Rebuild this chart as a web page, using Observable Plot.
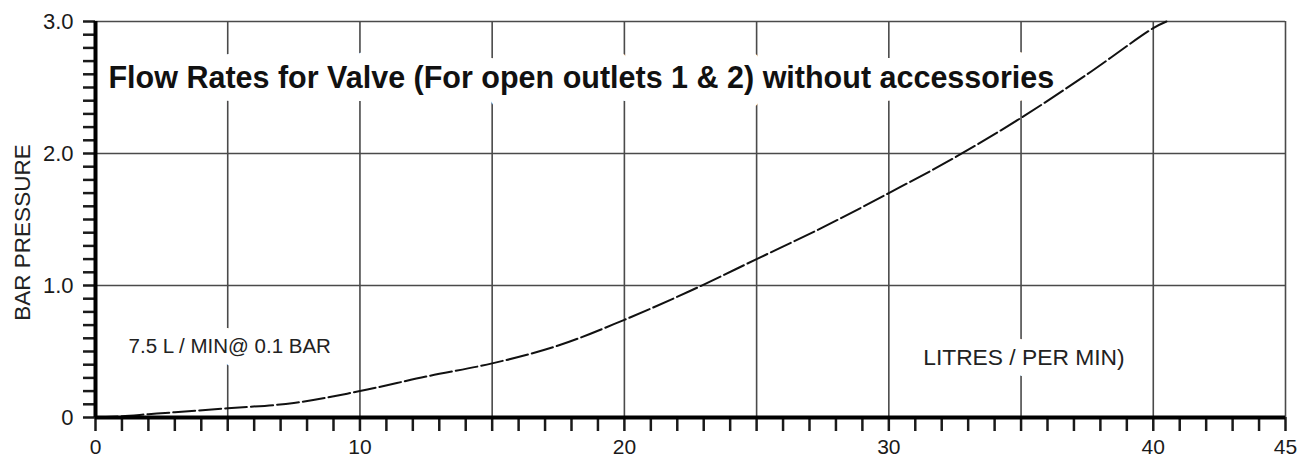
<!DOCTYPE html>
<html>
<head>
<meta charset="utf-8">
<script src="https://cdn.jsdelivr.net/npm/d3@7"></script>
<script src="https://cdn.jsdelivr.net/npm/@observablehq/plot@0.6"></script>
<style>
  html, body { margin: 0; padding: 0; background: #fff; }
  #chart svg { display: block; }
</style>
</head>
<body>
<div id="chart"></div>
<script>
// Flow (litres / min) vs. pressure (bar)
const flowLitres = [0, 1, 2, 3, 5, 7.5, 10, 12.5, 15, 17.5, 20, 22.5, 25, 27.5, 30, 32.5, 35, 37.5, 40, 40.5];
const pressureBar = [0, 0.01, 0.025, 0.04, 0.07, 0.11, 0.2, 0.31, 0.41, 0.545, 0.74, 0.96, 1.2, 1.44, 1.7, 1.97, 2.27, 2.6, 2.95, 3.0];

const xGridLines = [5, 10, 15, 20, 25, 30, 35, 40, 45];
const yGridLines = [1, 2, 3];
const xTickLabels = [0, 10, 20, 30, 40, 45];
const yTickValues = [0, 1, 2, 3];
const yTickLabels = ["0", "1.0", "2.0", "3.0"];

const titleText = ["Flow Rates for Valve (For open outlets 1 & 2) without accessories"];
const noteLeft = ["7.5 L / MIN@ 0.1 BAR"];
const noteRight = ["LITRES / PER MIN)"];
const yAxisLabel = ["BAR PRESSURE"];

const curve = flowLitres.map((x, i) => ({x, y: pressureBar[i]}));

const chart = Plot.plot({
  width: 1300,
  height: 459,
  marginLeft: 95,
  marginRight: 15,
  marginTop: 21,
  marginBottom: 42,
  x: {domain: [0, 45]},
  y: {domain: [0, 3]},
  style: {fontFamily: "'Liberation Sans', Arial, sans-serif", background: "#fff", color: "#1a1a1a"},
  marks: [
    Plot.ruleX(xGridLines, {y1: 0, y2: 3, stroke: "#4a4a4a", strokeWidth: 1.6}),
    Plot.ruleY(yGridLines, {x1: 0, x2: 45, stroke: "#4a4a4a", strokeWidth: 1.6}),
    Plot.text(titleText, {x: () => 0.49, y: () => 2.5, text: d => d, textAnchor: "start", lineAnchor: "bottom",
      fontSize: 30.5, fontWeight: "bold", fill: "#111", stroke: "#fff", strokeWidth: 26}),
    Plot.text(noteLeft, {x: () => 1.25, y: () => 0.485, text: d => d, textAnchor: "start", lineAnchor: "bottom",
      fontSize: 20.5, fill: "#222", stroke: "#fff", strokeWidth: 22}),
    Plot.text(noteRight, {x: () => 31.3, y: () => 0.394, text: d => d, textAnchor: "start", lineAnchor: "bottom",
      fontSize: 22.8, fill: "#222", stroke: "#fff", strokeWidth: 22}),
    Plot.line(curve, {x: "x", y: "y", curve: "catmull-rom", stroke: "#111", strokeWidth: 2, strokeDasharray: "22,4"}),
    Plot.axisX({ticks: d3.range(0, 46), tickSize: 14, tickPadding: 8, strokeWidth: 2.5,
      tickFormat: d => xTickLabels.includes(d) ? String(d) : "", fontSize: 21, label: null}),
    Plot.axisY({ticks: d3.range(0, 31).map(i => i / 10), tickSize: 12, tickPadding: 10, strokeWidth: 2.5,
      tickFormat: d => { const k = yTickValues.indexOf(Math.round(d * 10) / 10); return k >= 0 ? yTickLabels[k] : ""; },
      fontSize: 22, label: null}),
    Plot.ruleY([0], {stroke: "#000", strokeWidth: 4}),
    Plot.ruleX([0], {stroke: "#000", strokeWidth: 4}),
    Plot.text(yAxisLabel, {frameAnchor: "left", text: d => d, rotate: -90, textAnchor: "middle", lineAnchor: "middle",
      dx: -73, dy: 13, fontSize: 22.5, fill: "#222"})
  ]
});
document.getElementById("chart").appendChild(chart);
</script>
</body>
</html>
